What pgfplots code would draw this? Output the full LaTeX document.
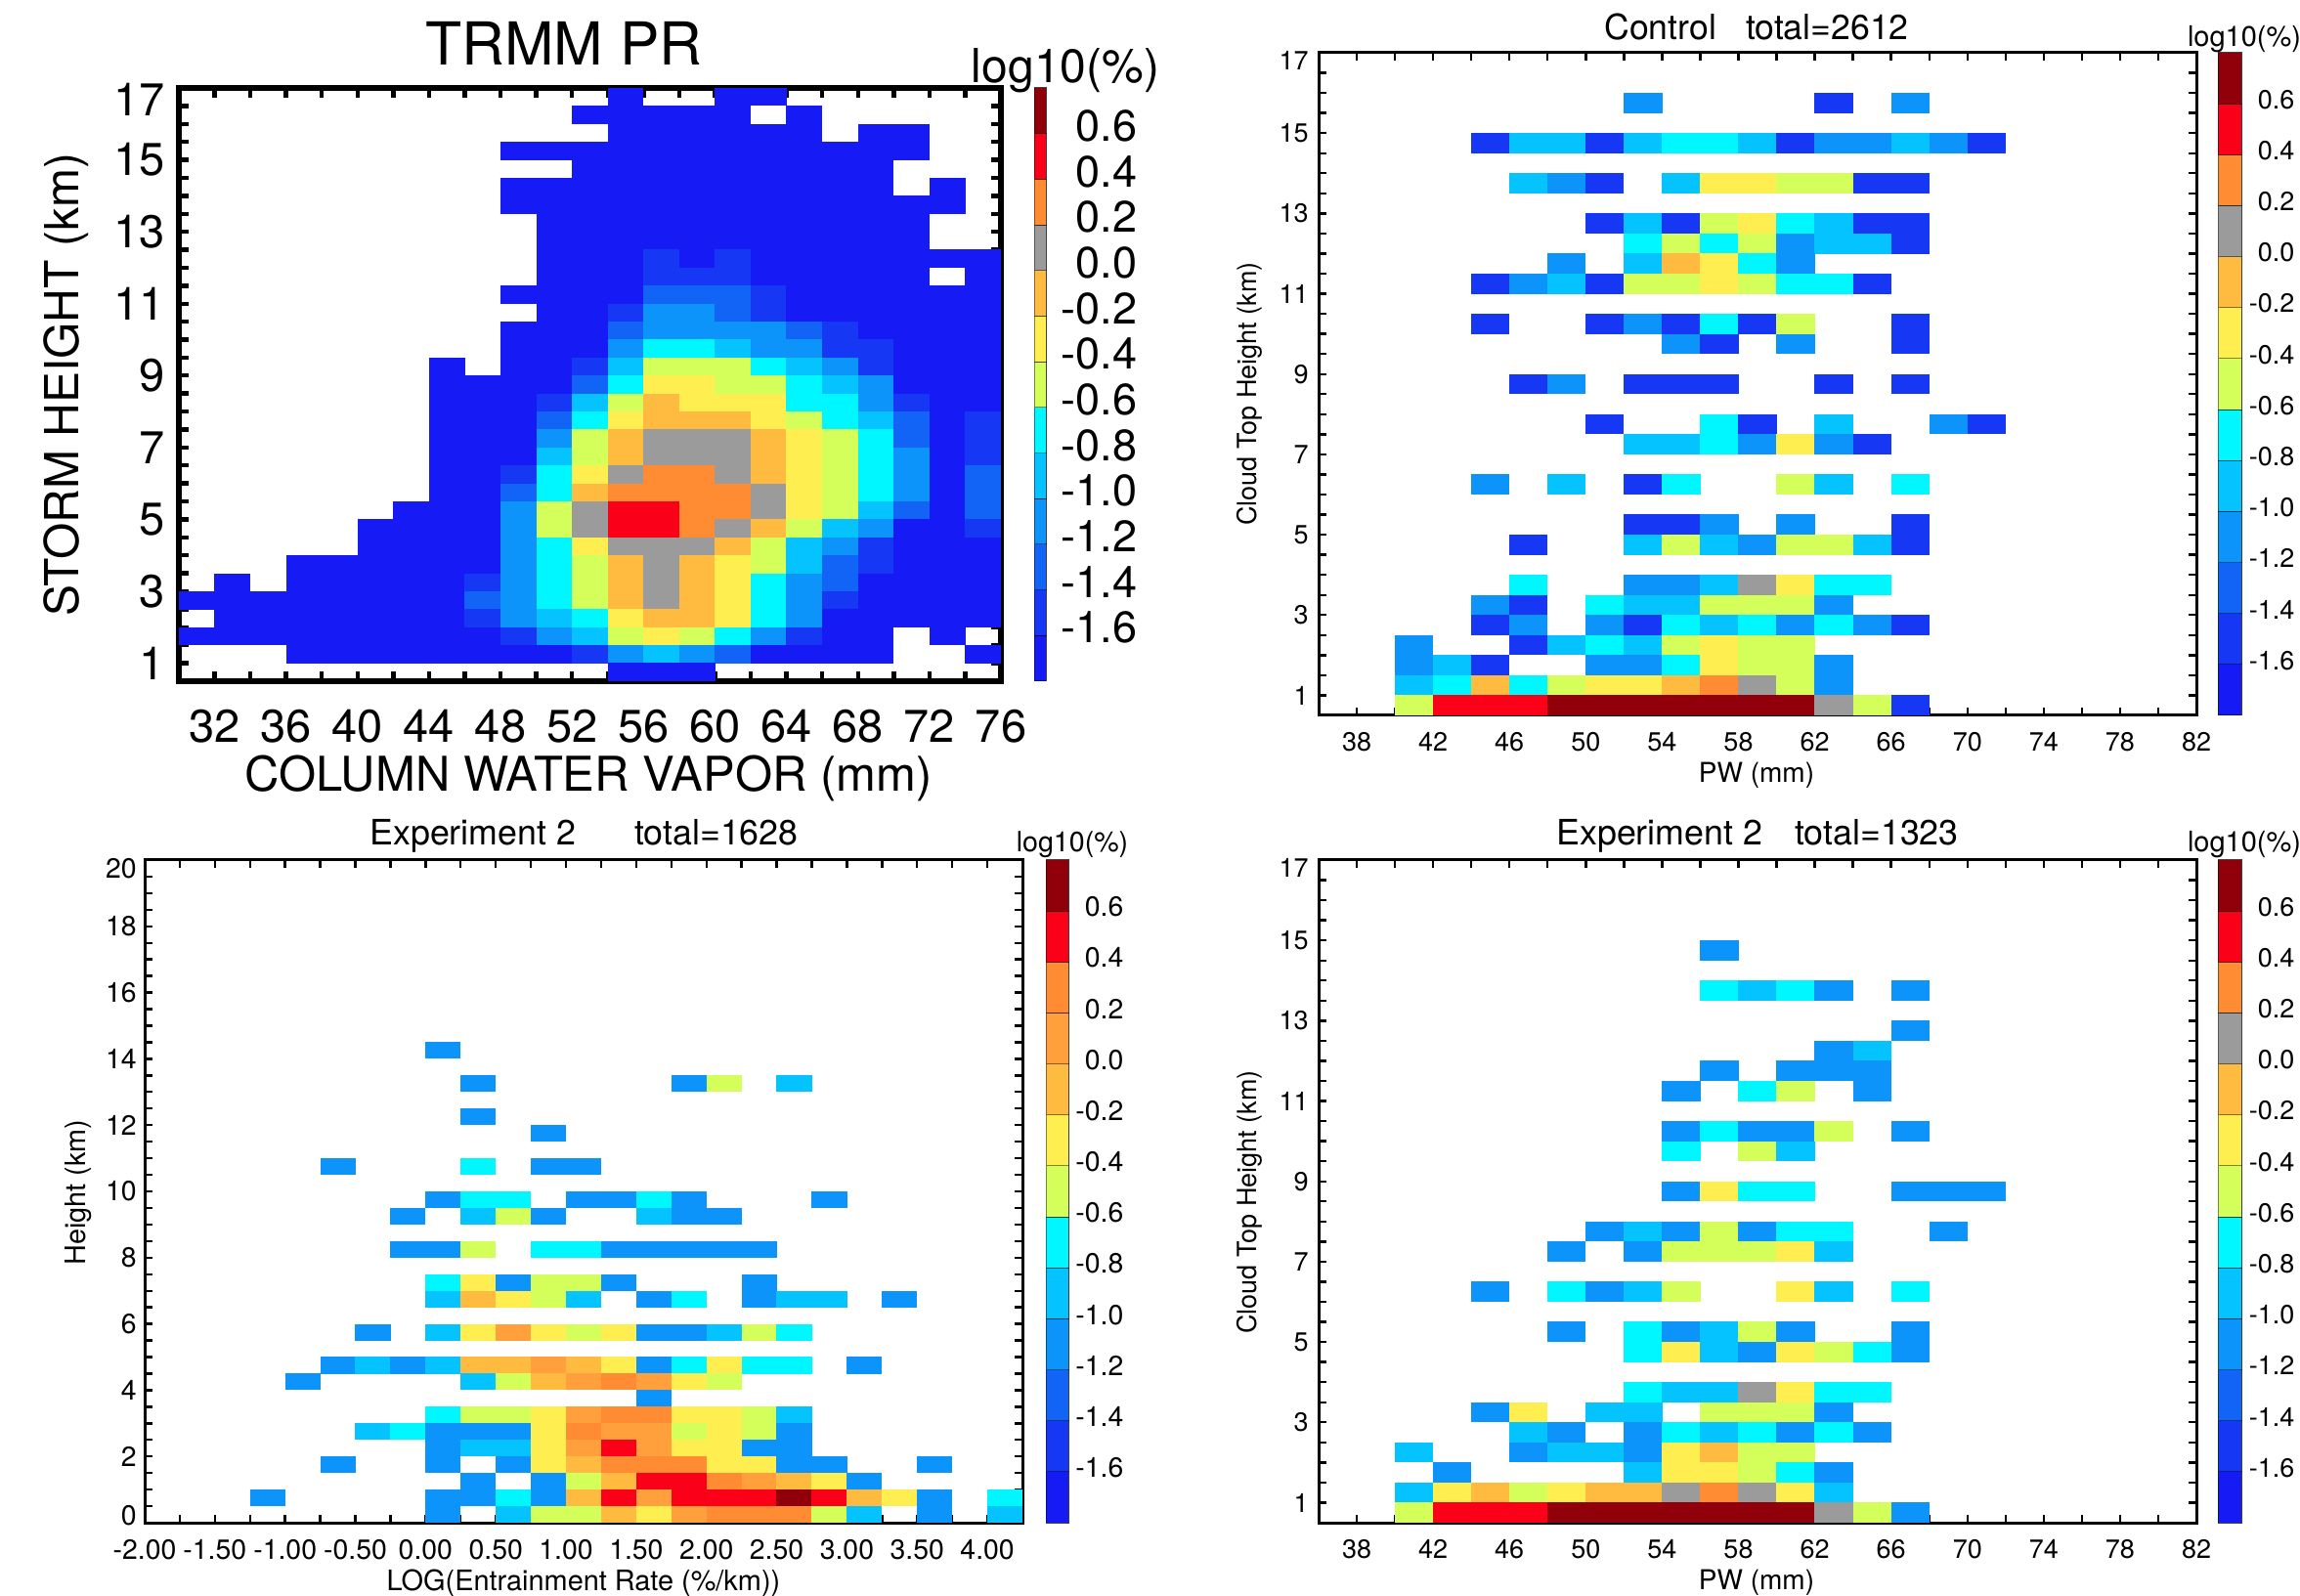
\documentclass[border=0pt]{standalone}
\usepackage{fontspec}
\setmainfont{TeX Gyre Heros}
\usepackage{pgfplots}
\usepackage{pgfplotstable}
\pgfplotsset{compat=1.18}
\newcommand\fs[1]{\fontsize{#1}{#1}\selectfont}
\definecolor{c1}{RGB}{22,27,245}
\definecolor{c2}{RGB}{22,56,245}
\definecolor{c3}{RGB}{17,100,245}
\definecolor{c4}{RGB}{13,148,250}
\definecolor{c5}{RGB}{5,195,255}
\definecolor{c6}{RGB}{0,247,255}
\definecolor{c7}{RGB}{212,255,90}
\definecolor{c8}{RGB}{255,238,80}
\definecolor{c9}{RGB}{255,187,64}
\definecolor{c10}{RGB}{155,155,155}
\definecolor{c11}{RGB}{255,140,50}
\definecolor{c12}{RGB}{250,0,25}
\definecolor{c13}{RGB}{145,0,10}
\definecolor{cTen}{RGB}{255,160,60}
\newcommand\cellmark[3]{\pgfdeclareplotmark{#1}{\pgfpathrectangle{\pgfpoint{-#2pt}{-#3pt}}{\pgfpoint{#2pt*2}{#3pt*2}}\pgfusepathqfill}}
\newcommand\barmark[3]{\pgfdeclareplotmark{#1}{\pgfpathrectangle{\pgfpoint{-#2pt}{-#3pt}}{\pgfpoint{#2pt*2}{#3pt*2}}\pgfusepathqfill
 \pgfpathrectangle{\pgfpoint{-#2pt}{-#3pt}}{\pgfpoint{#2pt*2}{#3pt*2}}\pgfsetstrokecolor{black}\pgfsetstrokeopacity{0.45}\pgfsetlinewidth{0.5pt}\pgfusepathqstroke}}
\cellmark{cellA}{9.2}{4.65}
\cellmark{cellB}{9.82}{5.18}
\cellmark{cellC}{9.03}{4.28}
\barmark{barA}{3}{11.67}
\barmark{barB}{6}{13.04}
\barmark{barC}{5.75}{13.04}
\pgfplotsset{
 lev/.style={only marks, scatter, scatter src=explicit symbolic, scatter/classes={
  1={mark=#1,c1},2={mark=#1,c2},3={mark=#1,c3},4={mark=#1,c4},5={mark=#1,c5},6={mark=#1,c6},7={mark=#1,c7},
  8={mark=#1,c8},9={mark=#1,c9},10={mark=#1,c10},11={mark=#1,c11},12={mark=#1,c12},13={mark=#1,c13}}},
 bar/.style={scale only axis, xmin=0, xmax=1, ymin=0, ymax=13, xtick=\empty, major tick length=0pt,
  axis line style={draw=black!55,line width=0.5pt}, yticklabel pos=right, axis on top,
  yticklabels={-1.6,-1.4,-1.2,-1.0,-0.8,-0.6,-0.4,-0.2,0.0,0.2,0.4,0.6}},
 ticksB/.style={scale only axis, axis on top, axis line style={line width=1.5pt}, tick style={black,line width=1.2pt},
  major tick length=4pt, minor tick length=4pt},
}
\pgfplotstableread[row sep=\\]{x y l\\
.5 .5 1\\ .5 1.5 2\\ .5 2.5 3\\ .5 3.5 4\\ .5 4.5 5\\ .5 5.5 6\\ .5 6.5 7\\ .5 7.5 8\\ .5 8.5 9\\ .5 9.5 10\\ .5 10.5 11\\ .5 11.5 12\\ .5 12.5 13\\
}\tBar
\pgfplotstableread[row sep=\\]{x y l\\
55 16.75 1\\ 61 16.75 1\\ 63 16.75 1\\
53 16.25 1\\ 55 16.25 1\\ 57 16.25 1\\ 59 16.25 1\\ 61 16.25 1\\ 65 16.25 1\\
55 15.75 1\\ 57 15.75 1\\ 59 15.75 1\\ 61 15.75 1\\ 63 15.75 1\\ 65 15.75 1\\ 69 15.75 1\\ 71 15.75 1\\
49 15.25 1\\ 51 15.25 1\\ 53 15.25 1\\ 55 15.25 1\\ 57 15.25 1\\ 59 15.25 1\\ 61 15.25 1\\ 63 15.25 1\\ 65 15.25 1\\ 67 15.25 1\\ 69 15.25 1\\ 71 15.25 1\\
53 14.75 1\\ 55 14.75 1\\ 57 14.75 1\\ 59 14.75 1\\ 61 14.75 1\\ 63 14.75 1\\ 65 14.75 1\\ 67 14.75 1\\ 69 14.75 1\\
49 14.25 1\\ 51 14.25 1\\ 53 14.25 1\\ 55 14.25 1\\ 57 14.25 1\\ 59 14.25 1\\ 61 14.25 1\\ 63 14.25 1\\ 65 14.25 1\\ 67 14.25 1\\ 69 14.25 1\\ 73 14.25 1\\
49 13.75 1\\ 51 13.75 1\\ 53 13.75 1\\ 55 13.75 1\\ 57 13.75 1\\ 59 13.75 1\\ 61 13.75 1\\ 63 13.75 1\\ 65 13.75 1\\ 67 13.75 1\\ 69 13.75 1\\ 71 13.75 1\\ 73 13.75 1\\
51 13.25 1\\ 53 13.25 1\\ 55 13.25 1\\ 57 13.25 1\\ 59 13.25 1\\ 61 13.25 1\\ 63 13.25 1\\ 65 13.25 1\\ 67 13.25 1\\ 69 13.25 1\\ 71 13.25 1\\
51 12.75 1\\ 53 12.75 1\\ 55 12.75 1\\ 57 12.75 1\\ 59 12.75 1\\ 61 12.75 1\\ 63 12.75 1\\ 65 12.75 1\\ 67 12.75 1\\ 69 12.75 1\\ 71 12.75 1\\
51 12.25 1\\ 53 12.25 1\\ 55 12.25 1\\ 57 12.25 2\\ 59 12.25 1\\ 61 12.25 2\\ 63 12.25 1\\ 65 12.25 1\\ 67 12.25 1\\ 69 12.25 1\\ 71 12.25 1\\ 73 12.25 1\\ 75 12.25 1\\
51 11.75 1\\ 53 11.75 1\\ 55 11.75 1\\ 57 11.75 2\\ 59 11.75 2\\ 61 11.75 2\\ 63 11.75 1\\ 65 11.75 1\\ 67 11.75 1\\ 69 11.75 1\\ 71 11.75 1\\ 75 11.75 1\\
49 11.25 1\\ 51 11.25 1\\ 53 11.25 1\\ 55 11.25 1\\ 57 11.25 3\\ 59 11.25 3\\ 61 11.25 3\\ 63 11.25 2\\ 65 11.25 1\\ 67 11.25 1\\ 69 11.25 1\\ 71 11.25 1\\ 73 11.25 1\\ 75 11.25 1\\
51 10.75 1\\ 53 10.75 1\\ 55 10.75 2\\ 57 10.75 4\\ 59 10.75 4\\ 61 10.75 3\\ 63 10.75 2\\ 65 10.75 1\\ 67 10.75 1\\ 69 10.75 1\\ 71 10.75 1\\ 73 10.75 1\\ 75 10.75 1\\
49 10.25 1\\ 51 10.25 1\\ 53 10.25 1\\ 55 10.25 3\\ 57 10.25 4\\ 59 10.25 4\\ 61 10.25 4\\ 63 10.25 4\\ 65 10.25 3\\ 67 10.25 2\\ 69 10.25 1\\ 71 10.25 1\\ 73 10.25 1\\ 75 10.25 1\\
49 9.75 1\\ 51 9.75 1\\ 53 9.75 1\\ 55 9.75 4\\ 57 9.75 6\\ 59 9.75 6\\ 61 9.75 5\\ 63 9.75 4\\ 65 9.75 4\\ 67 9.75 2\\ 69 9.75 2\\ 71 9.75 1\\ 73 9.75 1\\ 75 9.75 1\\
45 9.25 1\\ 49 9.25 1\\ 51 9.25 1\\ 53 9.25 2\\ 55 9.25 5\\ 57 9.25 7\\ 59 9.25 7\\ 61 9.25 7\\ 63 9.25 6\\ 65 9.25 5\\ 67 9.25 4\\ 69 9.25 2\\ 71 9.25 1\\ 73 9.25 1\\ 75 9.25 1\\
45 8.75 1\\ 47 8.75 1\\ 49 8.75 1\\ 51 8.75 1\\ 53 8.75 3\\ 55 8.75 6\\ 57 8.75 8\\ 59 8.75 8\\ 61 8.75 7\\ 63 8.75 7\\ 65 8.75 6\\ 67 8.75 5\\ 69 8.75 4\\ 71 8.75 1\\ 73 8.75 1\\ 75 8.75 1\\
45 8.25 1\\ 47 8.25 1\\ 49 8.25 1\\ 51 8.25 2\\ 53 8.25 5\\ 55 8.25 7\\ 57 8.25 9\\ 59 8.25 8\\ 61 8.25 8\\ 63 8.25 8\\ 65 8.25 6\\ 67 8.25 6\\ 69 8.25 4\\ 71 8.25 2\\ 73 8.25 1\\ 75 8.25 1\\
45 7.75 1\\ 47 7.75 1\\ 49 7.75 1\\ 51 7.75 3\\ 53 7.75 6\\ 55 7.75 8\\ 57 7.75 9\\ 59 7.75 9\\ 61 7.75 9\\ 63 7.75 8\\ 65 7.75 7\\ 67 7.75 6\\ 69 7.75 5\\ 71 7.75 3\\ 73 7.75 1\\ 75 7.75 2\\
45 7.25 1\\ 47 7.25 1\\ 49 7.25 1\\ 51 7.25 4\\ 53 7.25 7\\ 55 7.25 9\\ 57 7.25 10\\ 59 7.25 10\\ 61 7.25 10\\ 63 7.25 9\\ 65 7.25 8\\ 67 7.25 7\\ 69 7.25 6\\ 71 7.25 3\\ 73 7.25 1\\ 75 7.25 2\\
45 6.75 1\\ 47 6.75 1\\ 49 6.75 1\\ 51 6.75 5\\ 53 6.75 7\\ 55 6.75 9\\ 57 6.75 10\\ 59 6.75 10\\ 61 6.75 10\\ 63 6.75 9\\ 65 6.75 8\\ 67 6.75 7\\ 69 6.75 6\\ 71 6.75 4\\ 73 6.75 1\\ 75 6.75 2\\
45 6.25 1\\ 47 6.25 1\\ 49 6.25 2\\ 51 6.25 6\\ 53 6.25 8\\ 55 6.25 10\\ 57 6.25 11\\ 59 6.25 11\\ 61 6.25 10\\ 63 6.25 9\\ 65 6.25 8\\ 67 6.25 7\\ 69 6.25 6\\ 71 6.25 4\\ 73 6.25 1\\ 75 6.25 3\\
45 5.75 1\\ 47 5.75 1\\ 49 5.75 3\\ 51 5.75 6\\ 53 5.75 9\\ 55 5.75 11\\ 57 5.75 11\\ 59 5.75 11\\ 61 5.75 11\\ 63 5.75 10\\ 65 5.75 8\\ 67 5.75 7\\ 69 5.75 6\\ 71 5.75 4\\ 73 5.75 1\\ 75 5.75 3\\
43 5.25 1\\ 45 5.25 1\\ 47 5.25 1\\ 49 5.25 4\\ 51 5.25 7\\ 53 5.25 10\\ 55 5.25 12\\ 57 5.25 12\\ 59 5.25 11\\ 61 5.25 11\\ 63 5.25 10\\ 65 5.25 8\\ 67 5.25 7\\ 69 5.25 5\\ 71 5.25 3\\ 73 5.25 1\\ 75 5.25 3\\
41 4.75 1\\ 43 4.75 1\\ 45 4.75 1\\ 47 4.75 1\\ 49 4.75 4\\ 51 4.75 7\\ 53 4.75 10\\ 55 4.75 12\\ 57 4.75 12\\ 59 4.75 11\\ 61 4.75 10\\ 63 4.75 9\\ 65 4.75 7\\ 67 4.75 5\\ 69 4.75 4\\ 71 4.75 1\\ 73 4.75 1\\ 75 4.75 2\\
41 4.25 1\\ 43 4.25 1\\ 45 4.25 1\\ 47 4.25 1\\ 49 4.25 4\\ 51 4.25 6\\ 53 4.25 8\\ 55 4.25 10\\ 57 4.25 10\\ 59 4.25 10\\ 61 4.25 9\\ 63 4.25 7\\ 65 4.25 5\\ 67 4.25 4\\ 69 4.25 2\\ 71 4.25 1\\ 73 4.25 1\\ 75 4.25 1\\
37 3.75 1\\ 39 3.75 1\\ 41 3.75 1\\ 43 3.75 1\\ 45 3.75 1\\ 47 3.75 1\\ 49 3.75 4\\ 51 3.75 6\\ 53 3.75 7\\ 55 3.75 9\\ 57 3.75 10\\ 59 3.75 9\\ 61 3.75 8\\ 63 3.75 7\\ 65 3.75 5\\ 67 3.75 3\\ 69 3.75 2\\ 71 3.75 1\\ 73 3.75 1\\ 75 3.75 1\\
33 3.25 1\\ 37 3.25 1\\ 39 3.25 1\\ 41 3.25 1\\ 43 3.25 1\\ 45 3.25 1\\ 47 3.25 2\\ 49 3.25 4\\ 51 3.25 6\\ 53 3.25 7\\ 55 3.25 9\\ 57 3.25 10\\ 59 3.25 9\\ 61 3.25 8\\ 63 3.25 6\\ 65 3.25 4\\ 67 3.25 3\\ 69 3.25 1\\ 71 3.25 1\\ 73 3.25 1\\ 75 3.25 1\\
31 2.75 1\\ 33 2.75 1\\ 35 2.75 1\\ 37 2.75 1\\ 39 2.75 1\\ 41 2.75 1\\ 43 2.75 1\\ 45 2.75 1\\ 47 2.75 3\\ 49 2.75 4\\ 51 2.75 6\\ 53 2.75 7\\ 55 2.75 9\\ 57 2.75 10\\ 59 2.75 9\\ 61 2.75 8\\ 63 2.75 6\\ 65 2.75 4\\ 67 2.75 2\\ 69 2.75 1\\ 71 2.75 1\\ 73 2.75 1\\ 75 2.75 1\\
33 2.25 1\\ 35 2.25 1\\ 37 2.25 1\\ 39 2.25 1\\ 41 2.25 1\\ 43 2.25 1\\ 45 2.25 1\\ 47 2.25 2\\ 49 2.25 4\\ 51 2.25 5\\ 53 2.25 6\\ 55 2.25 8\\ 57 2.25 9\\ 59 2.25 9\\ 61 2.25 8\\ 63 2.25 6\\ 65 2.25 4\\ 67 2.25 1\\ 69 2.25 1\\ 71 2.25 1\\ 73 2.25 1\\ 75 2.25 1\\
31 1.75 1\\ 33 1.75 1\\ 35 1.75 1\\ 37 1.75 1\\ 39 1.75 1\\ 41 1.75 1\\ 43 1.75 1\\ 45 1.75 1\\ 47 1.75 1\\ 49 1.75 2\\ 51 1.75 4\\ 53 1.75 5\\ 55 1.75 7\\ 57 1.75 8\\ 59 1.75 7\\ 61 1.75 6\\ 63 1.75 4\\ 65 1.75 2\\ 67 1.75 1\\ 69 1.75 1\\ 73 1.75 1\\
37 1.25 1\\ 39 1.25 1\\ 41 1.25 1\\ 43 1.25 1\\ 45 1.25 1\\ 47 1.25 1\\ 49 1.25 1\\ 51 1.25 1\\ 53 1.25 2\\ 55 1.25 4\\ 57 1.25 5\\ 59 1.25 4\\ 61 1.25 3\\ 63 1.25 1\\ 65 1.25 1\\ 67 1.25 1\\ 69 1.25 1\\ 75 1.25 1\\
55 .75 1\\ 57 .75 1\\ 59 .75 1\\
}\tA
\pgfplotstableread[row sep=\\]{x y l\\
53 15.75 4\\ 63 15.75 2\\ 67 15.75 4\\
45 14.75 2\\ 47 14.75 5\\ 49 14.75 5\\ 51 14.75 2\\ 53 14.75 5\\ 55 14.75 6\\ 57 14.75 6\\ 59 14.75 5\\ 61 14.75 2\\ 63 14.75 4\\ 65 14.75 4\\ 67 14.75 5\\ 69 14.75 4\\ 71 14.75 2\\
47 13.75 5\\ 49 13.75 4\\ 51 13.75 2\\ 55 13.75 5\\ 57 13.75 8\\ 59 13.75 8\\ 61 13.75 7\\ 63 13.75 7\\ 65 13.75 2\\ 67 13.75 2\\
51 12.75 2\\ 53 12.75 5\\ 55 12.75 2\\ 57 12.75 7\\ 59 12.75 8\\ 61 12.75 6\\ 63 12.75 5\\ 65 12.75 2\\ 67 12.75 2\\
53 12.25 6\\ 55 12.25 7\\ 57 12.25 6\\ 59 12.25 7\\ 61 12.25 4\\ 63 12.25 5\\ 65 12.25 5\\ 67 12.25 2\\
49 11.75 4\\ 53 11.75 5\\ 55 11.75 9\\ 57 11.75 8\\ 59 11.75 6\\ 61 11.75 4\\
45 11.25 2\\ 47 11.25 4\\ 49 11.25 5\\ 51 11.25 2\\ 53 11.25 7\\ 55 11.25 7\\ 57 11.25 8\\ 59 11.25 7\\ 61 11.25 6\\ 63 11.25 6\\ 65 11.25 2\\
45 10.25 2\\ 51 10.25 2\\ 53 10.25 4\\ 55 10.25 2\\ 57 10.25 6\\ 59 10.25 2\\ 61 10.25 7\\ 67 10.25 2\\
55 9.75 4\\ 57 9.75 2\\ 61 9.75 4\\ 67 9.75 2\\
47 8.75 2\\ 49 8.75 4\\ 53 8.75 2\\ 55 8.75 2\\ 57 8.75 2\\ 63 8.75 2\\ 67 8.75 2\\
51 7.75 2\\ 57 7.75 6\\ 59 7.75 2\\ 63 7.75 5\\ 69 7.75 4\\ 71 7.75 2\\
53 7.25 5\\ 55 7.25 5\\ 57 7.25 6\\ 59 7.25 4\\ 61 7.25 8\\ 63 7.25 4\\ 65 7.25 2\\
45 6.25 4\\ 49 6.25 5\\ 53 6.25 2\\ 55 6.25 6\\ 61 6.25 7\\ 63 6.25 5\\ 67 6.25 6\\
53 5.25 2\\ 55 5.25 2\\ 57 5.25 4\\ 61 5.25 4\\ 67 5.25 2\\
47 4.75 2\\ 53 4.75 5\\ 55 4.75 7\\ 57 4.75 5\\ 59 4.75 4\\ 61 4.75 7\\ 63 4.75 7\\ 65 4.75 5\\ 67 4.75 2\\
47 3.75 6\\ 53 3.75 4\\ 55 3.75 4\\ 57 3.75 5\\ 59 3.75 10\\ 61 3.75 8\\ 63 3.75 6\\ 65 3.75 6\\
45 3.25 4\\ 47 3.25 2\\ 51 3.25 6\\ 53 3.25 5\\ 55 3.25 5\\ 57 3.25 7\\ 59 3.25 7\\ 61 3.25 7\\ 63 3.25 4\\
45 2.75 2\\ 47 2.75 4\\ 51 2.75 4\\ 53 2.75 2\\ 55 2.75 6\\ 57 2.75 5\\ 59 2.75 6\\ 61 2.75 4\\ 63 2.75 6\\ 65 2.75 4\\ 67 2.75 2\\
41 2.25 4\\ 47 2.25 2\\ 49 2.25 5\\ 51 2.25 6\\ 53 2.25 5\\ 55 2.25 7\\ 57 2.25 8\\ 59 2.25 7\\ 61 2.25 7\\
41 1.75 4\\ 43 1.75 5\\ 45 1.75 2\\ 51 1.75 4\\ 53 1.75 4\\ 55 1.75 6\\ 57 1.75 8\\ 59 1.75 7\\ 61 1.75 7\\ 63 1.75 4\\
41 1.25 5\\ 43 1.25 6\\ 45 1.25 9\\ 47 1.25 6\\ 49 1.25 7\\ 51 1.25 8\\ 53 1.25 8\\ 55 1.25 9\\ 57 1.25 11\\ 59 1.25 10\\ 61 1.25 7\\ 63 1.25 4\\
41 .75 7\\ 43 .75 12\\ 45 .75 12\\ 47 .75 12\\ 49 .75 13\\ 51 .75 13\\ 53 .75 13\\ 55 .75 13\\ 57 .75 13\\ 59 .75 13\\ 61 .75 13\\ 63 .75 10\\ 65 .75 7\\ 67 .75 2\\
}\tB
\pgfplotstableread[row sep=\\]{x y l\\
.125 14.25 4\\
.375 13.25 4\\ 1.875 13.25 4\\ 2.125 13.25 7\\ 2.625 13.25 5\\
.375 12.25 4\\
.875 11.75 4\\
-.625 10.75 4\\ .375 10.75 6\\ .875 10.75 4\\ 1.125 10.75 4\\
.125 9.75 4\\ .375 9.75 6\\ .625 9.75 6\\ 1.125 9.75 4\\ 1.375 9.75 4\\ 1.625 9.75 6\\ 1.875 9.75 4\\ 2.875 9.75 4\\
-.125 9.25 4\\ .375 9.25 5\\ .625 9.25 7\\ .875 9.25 4\\ 1.625 9.25 5\\ 1.875 9.25 4\\ 2.125 9.25 4\\
-.125 8.25 4\\ .125 8.25 4\\ .375 8.25 7\\ .875 8.25 6\\ 1.125 8.25 6\\ 1.375 8.25 4\\ 1.625 8.25 4\\ 1.875 8.25 4\\ 2.125 8.25 4\\ 2.375 8.25 4\\
.125 7.25 6\\ .375 7.25 8\\ .625 7.25 4\\ .875 7.25 7\\ 1.125 7.25 7\\ 1.375 7.25 4\\ 2.375 7.25 4\\
.125 6.75 5\\ .375 6.75 9\\ .625 6.75 8\\ .875 6.75 7\\ 1.125 6.75 5\\ 1.625 6.75 4\\ 1.875 6.75 6\\ 2.375 6.75 4\\ 2.625 6.75 5\\ 2.875 6.75 5\\ 3.375 6.75 4\\
-.375 5.75 4\\ .125 5.75 5\\ .375 5.75 8\\ .625 5.75 10\\ .875 5.75 8\\ 1.125 5.75 7\\ 1.375 5.75 8\\ 1.625 5.75 4\\ 1.875 5.75 4\\ 2.125 5.75 5\\ 2.375 5.75 7\\ 2.625 5.75 6\\
-.625 4.75 4\\ -.375 4.75 5\\ -.125 4.75 4\\ .125 4.75 5\\ .375 4.75 9\\ .625 4.75 9\\ .875 4.75 10\\ 1.125 4.75 9\\ 1.375 4.75 8\\ 1.625 4.75 4\\ 1.875 4.75 6\\ 2.125 4.75 8\\ 2.375 4.75 6\\ 2.625 4.75 6\\ 3.125 4.75 4\\
-.875 4.25 4\\ .375 4.25 5\\ .625 4.25 7\\ .875 4.25 9\\ 1.125 4.25 10\\ 1.375 4.25 11\\ 1.625 4.25 10\\ 1.875 4.25 8\\ 2.125 4.25 7\\
1.625 3.75 4\\
.125 3.25 6\\ .375 3.25 7\\ .625 3.25 7\\ .875 3.25 8\\ 1.125 3.25 10\\ 1.375 3.25 11\\ 1.625 3.25 11\\ 1.875 3.25 8\\ 2.125 3.25 8\\ 2.375 3.25 7\\ 2.625 3.25 5\\
-.375 2.75 5\\ -.125 2.75 6\\ .125 2.75 4\\ .375 2.75 4\\ .625 2.75 4\\ .875 2.75 8\\ 1.125 2.75 11\\ 1.375 2.75 10\\ 1.625 2.75 10\\ 1.875 2.75 7\\ 2.125 2.75 8\\ 2.375 2.75 7\\ 2.625 2.75 4\\
.125 2.25 4\\ .375 2.25 5\\ .625 2.25 5\\ .875 2.25 8\\ 1.125 2.25 10\\ 1.375 2.25 12\\ 1.625 2.25 10\\ 1.875 2.25 8\\ 2.125 2.25 8\\ 2.375 2.25 4\\ 2.625 2.25 4\\
-.625 1.75 4\\ .125 1.75 4\\ .625 1.75 4\\ .875 1.75 8\\ 1.125 1.75 9\\ 1.375 1.75 11\\ 1.625 1.75 11\\ 1.875 1.75 11\\ 2.125 1.75 8\\ 2.375 1.75 8\\ 2.625 1.75 4\\ 2.875 1.75 4\\ 3.625 1.75 4\\
.375 1.25 4\\ .875 1.25 4\\ 1.125 1.25 7\\ 1.375 1.25 9\\ 1.625 1.25 12\\ 1.875 1.25 12\\ 2.125 1.25 11\\ 2.375 1.25 10\\ 2.625 1.25 9\\ 2.875 1.25 8\\ 3.125 1.25 4\\
-1.125 .75 4\\ .125 .75 4\\ .375 .75 4\\ .625 .75 6\\ .875 .75 4\\ 1.125 .75 9\\ 1.375 .75 12\\ 1.625 .75 10\\ 1.875 .75 12\\ 2.125 .75 12\\ 2.375 .75 12\\ 2.625 .75 13\\ 2.875 .75 12\\ 3.125 .75 9\\ 3.375 .75 8\\ 3.625 .75 4\\ 4.125 .75 6\\
.125 .25 4\\ .625 .25 5\\ .875 .25 7\\ 1.125 .25 7\\ 1.375 .25 9\\ 1.625 .25 8\\ 1.875 .25 10\\ 2.125 .25 11\\ 2.375 .25 11\\ 2.625 .25 11\\ 2.875 .25 7\\ 3.125 .25 5\\ 3.625 .25 4\\ 4.125 .25 5\\
}\tC
\pgfplotstableread[row sep=\\]{x y l\\
57 14.75 4\\
57 13.75 6\\ 59 13.75 5\\ 61 13.75 6\\ 63 13.75 4\\ 67 13.75 4\\
67 12.75 4\\
63 12.25 4\\ 65 12.25 5\\
57 11.75 4\\ 61 11.75 4\\ 63 11.75 4\\ 65 11.75 4\\
55 11.25 4\\ 59 11.25 6\\ 61 11.25 7\\ 65 11.25 4\\
55 10.25 4\\ 57 10.25 6\\ 59 10.25 4\\ 61 10.25 4\\ 63 10.25 7\\ 67 10.25 4\\
55 9.75 6\\ 59 9.75 7\\ 61 9.75 5\\
55 8.75 4\\ 57 8.75 8\\ 59 8.75 6\\ 61 8.75 6\\ 67 8.75 4\\ 69 8.75 4\\ 71 8.75 4\\
51 7.75 4\\ 53 7.75 5\\ 55 7.75 4\\ 57 7.75 7\\ 59 7.75 4\\ 61 7.75 6\\ 63 7.75 6\\ 69 7.75 4\\
49 7.25 4\\ 53 7.25 4\\ 55 7.25 7\\ 57 7.25 7\\ 59 7.25 7\\ 61 7.25 8\\ 63 7.25 5\\
45 6.25 4\\ 49 6.25 6\\ 51 6.25 4\\ 53 6.25 5\\ 55 6.25 7\\ 61 6.25 8\\ 63 6.25 5\\ 67 6.25 6\\
49 5.25 4\\ 53 5.25 6\\ 55 5.25 4\\ 57 5.25 5\\ 59 5.25 7\\ 61 5.25 4\\ 67 5.25 4\\
53 4.75 6\\ 55 4.75 8\\ 57 4.75 5\\ 59 4.75 4\\ 61 4.75 8\\ 63 4.75 7\\ 65 4.75 6\\ 67 4.75 4\\
53 3.75 6\\ 55 3.75 5\\ 57 3.75 5\\ 59 3.75 10\\ 61 3.75 8\\ 63 3.75 6\\ 65 3.75 6\\
45 3.25 4\\ 47 3.25 8\\ 51 3.25 5\\ 53 3.25 5\\ 57 3.25 7\\ 59 3.25 7\\ 61 3.25 7\\ 63 3.25 4\\
47 2.75 5\\ 49 2.75 4\\ 53 2.75 4\\ 55 2.75 6\\ 57 2.75 5\\ 59 2.75 6\\ 61 2.75 4\\ 63 2.75 6\\ 65 2.75 4\\
41 2.25 5\\ 47 2.25 4\\ 49 2.25 5\\ 51 2.25 5\\ 53 2.25 4\\ 55 2.25 8\\ 57 2.25 9\\ 59 2.25 7\\ 61 2.25 7\\
43 1.75 4\\ 53 1.75 5\\ 55 1.75 8\\ 57 1.75 8\\ 59 1.75 7\\ 61 1.75 6\\ 63 1.75 4\\
41 1.25 5\\ 43 1.25 8\\ 45 1.25 9\\ 47 1.25 7\\ 49 1.25 8\\ 51 1.25 9\\ 53 1.25 9\\ 55 1.25 10\\ 57 1.25 11\\ 59 1.25 10\\ 61 1.25 8\\ 63 1.25 5\\
41 .75 7\\ 43 .75 12\\ 45 .75 12\\ 47 .75 12\\ 49 .75 13\\ 51 .75 13\\ 53 .75 13\\ 55 .75 13\\ 57 .75 13\\ 59 .75 13\\ 61 .75 13\\ 63 .75 10\\ 65 .75 7\\ 67 .75 4\\
}\tD
\begin{document}
\begin{tikzpicture}
\path[use as bounding box] (0,0) rectangle (1176.5pt,816pt);
% ---- Panel A
\begin{axis}[anchor=south west, at={(91.5pt,467.5pt)}, width=420.5pt, height=303.5pt, scale only axis, axis on top,
  xmin=30, xmax=76, ymin=.5, ymax=17,
  axis line style={line width=2.6pt}, tick style={black,line width=2.2pt}, major tick length=5pt, minor tick length=5pt,
  xtick={32,36,...,76}, xticklabels={32,36,40,44,48,52,56,60,64,68,72,76},
  minor xtick={34,38,...,74},
  ytick={1,3,...,15}, yticklabels={1,3,5,7,9,11,13,15},
  minor ytick={1.5,2,...,16.5},
  extra y ticks={16.67}, extra y tick labels={17}, extra y tick style={tick style={draw=none}},
  xticklabel style={font=\fs{23.5},inner sep=0pt,yshift=-14.5pt},
  yticklabel style={font=\fs{23.5},inner sep=0pt,xshift=-7pt}]
\addplot[lev=cellA] table[meta=l]{\tA};
\end{axis}
\begin{axis}[bar, anchor=south west, at={(529pt,467.5pt)}, width=6pt, height=303.5pt,
  ytick={1.17,2.17,...,12.17}, yticklabel style={font=\fs{22.5},inner sep=0pt,text width=46.5pt,align=right}]
\addplot[lev=barA] table[meta=l]{\tBar};
\end{axis}
\node[anchor=base,font=\fs{30.3}] at (288.5pt,782.5pt) {TRMM PR};
\node[anchor=base,font=\fs{24.5}] at (301pt,411pt) {COLUMN WATER VAPOR (mm)};
\node[anchor=base,font=\fs{24},rotate=90] at (40pt,619pt) {STORM HEIGHT (km)};
\node[anchor=base,font=\fs{24}] at (545pt,773.5pt) {log10(\%)};
% ---- Panel B
\begin{axis}[ticksB, anchor=south west, at={(674.5pt,450pt)}, width=449pt, height=339pt,
  xmin=36, xmax=82, ymin=.5, ymax=17,
  xtick={38,42,...,82}, xticklabels={38,42,46,50,54,58,62,66,70,74,78,82},
  minor xtick={40,44,...,80},
  ytick={1,3,...,15}, yticklabels={1,3,5,7,9,11,13,15},
  minor ytick={1.5,2,...,16.5},
  extra y ticks={16.8}, extra y tick labels={17}, extra y tick style={tick style={draw=none}},
  xticklabel style={font=\fs{13.5},inner sep=0pt,yshift=-8.5pt},
  yticklabel style={font=\fs{13.5},inner sep=0pt,xshift=-5pt}]
\addplot[lev=cellB] table[meta=l]{\tB};
\end{axis}
\begin{axis}[bar, anchor=south west, at={(1134.5pt,450pt)}, width=12pt, height=339pt,
  ytick={1.08,2.08,...,12.08}, yticklabel style={font=\fs{13.5},inner sep=0pt,text width=27pt,align=right}]
\addplot[lev=barB] table[meta=l]{\tBar};
\end{axis}
\node[anchor=base,font=\fs{17.8}] at (898.5pt,795.5pt) {Control\hspace{15pt}total=2612};
\node[anchor=base,font=\fs{14}] at (898.5pt,415.5pt) {PW (mm)};
\node[anchor=base,font=\fs{13.5},rotate=90] at (642.5pt,614.5pt) {Cloud Top Height (km)};
\node[anchor=base,font=\fs{14.5}] at (1148pt,792pt) {log10(\%)};
% ---- Panel C
\begin{scope}
\colorlet{c10}{cTen}
\begin{axis}[ticksB, anchor=south west, at={(74pt,37pt)}, width=449pt, height=339pt,
  xmin=-2, xmax=4.25, ymin=0, ymax=20,
  xtick={-2,-1.5,...,4}, xticklabels={-2.00,-1.50,-1.00,-0.50,0.00,0.50,1.00,1.50,2.00,2.50,3.00,3.50,4.00},
  minor xtick={-1.75,-1.25,...,4},
  ytick={2,4,...,18}, yticklabels={2,4,6,8,10,12,14,16,18},
  minor ytick={.5,1,...,19.5},
  extra y ticks={.22,19.75}, extra y tick labels={0,20}, extra y tick style={tick style={draw=none}},
  xticklabel style={font=\fs{14.2},inner sep=0pt,yshift=-8.5pt},
  yticklabel style={font=\fs{14.2},inner sep=0pt,xshift=-4pt}]
\addplot[lev=cellC] table[meta=l]{\tC};
\end{axis}
\begin{axis}[bar, anchor=south west, at={(535pt,37pt)}, width=11.5pt, height=339pt,
  ytick={1.08,2.08,...,12.08}, yticklabel style={font=\fs{14.2},inner sep=0pt,text width=28pt,align=right}]
\addplot[lev=barC] table[meta=l]{\tBar};
\end{axis}
\end{scope}
\node[anchor=base,font=\fs{17.9}] at (298.75pt,383.5pt) {Experiment 2\hspace{30pt}total=1628};
\node[anchor=base,font=\fs{14.45}] at (298.5pt,2.5pt) {LOG(Entrainment Rate (\%/km))};
\node[anchor=base,font=\fs{14.4},rotate=90] at (43.5pt,206pt) {Height (km)};
\node[anchor=base,font=\fs{14.3}] at (548.5pt,380pt) {log10(\%)};
% ---- Panel D
\begin{axis}[ticksB, anchor=south west, at={(674.5pt,37pt)}, width=449pt, height=339pt,
  xmin=36, xmax=82, ymin=.5, ymax=17,
  xtick={38,42,...,82}, xticklabels={38,42,46,50,54,58,62,66,70,74,78,82},
  minor xtick={40,44,...,80},
  ytick={1,3,...,15}, yticklabels={1,3,5,7,9,11,13,15},
  minor ytick={1.5,2,...,16.5},
  extra y ticks={16.8}, extra y tick labels={17}, extra y tick style={tick style={draw=none}},
  xticklabel style={font=\fs{13.5},inner sep=0pt,yshift=-8.5pt},
  yticklabel style={font=\fs{13.5},inner sep=0pt,xshift=-5pt}]
\addplot[lev=cellB] table[meta=l]{\tD};
\end{axis}
\begin{axis}[bar, anchor=south west, at={(1134.5pt,37pt)}, width=12pt, height=339pt,
  ytick={1.08,2.08,...,12.08}, yticklabel style={font=\fs{13.5},inner sep=0pt,text width=27pt,align=right}]
\addplot[lev=barB] table[meta=l]{\tBar};
\end{axis}
\node[anchor=base,font=\fs{17.9}] at (899pt,383.5pt) {Experiment 2\hspace{16.5pt}total=1323};
\node[anchor=base,font=\fs{14}] at (898.5pt,3pt) {PW (mm)};
\node[anchor=base,font=\fs{13.5},rotate=90] at (642.5pt,201pt) {Cloud Top Height (km)};
\node[anchor=base,font=\fs{14.5}] at (1148pt,380pt) {log10(\%)};
\end{tikzpicture}
\end{document}
